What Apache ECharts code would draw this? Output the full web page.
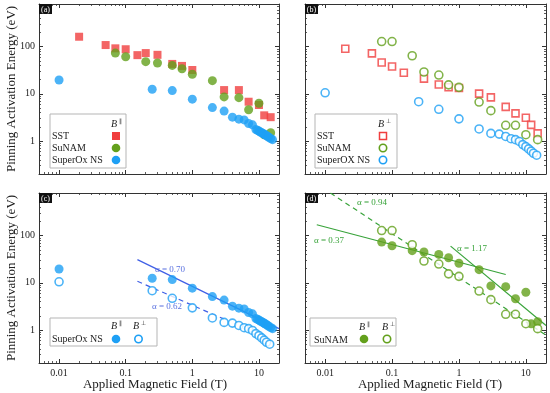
<!DOCTYPE html>
<html><head><meta charset="utf-8">
<script src="https://cdn.jsdelivr.net/npm/echarts@6/dist/echarts.min.js"></script>
<style>html,body{margin:0;padding:0;background:#fff}#c{width:550px;height:393px}</style>
</head><body><div id="c"></div>
<script>
// ---- data (B in T, E in eV) ----
const sstParB  = [0.02,0.05,0.07,0.1,0.15,0.2,0.3,0.5,0.7,1,3,5,7,10,12,15];
const sstParE  = [162,108,92,88,66,73,67,43,39,32,12,12,6.8,5.8,3.5,3.2];
const sunParB  = [0.07,0.1,0.2,0.3,0.5,0.7,1,2,3,5,7,10,12,15];
const sunParE  = [73,61,48,45,40,34,26,19,8.6,8.3,4.6,6.3,1.35,1.5];
const soxParB  = [0.01,0.25,0.5,1,2,3,4,5,6,7,8,9,9.5,10,10.5,11,11.5,12,12.5,13,13.5,14,15,16];
const soxParE  = [19.6,12.5,11.7,7.7,5.1,4.3,3.2,2.9,2.8,2.35,2.2,1.75,1.68,1.62,1.55,1.5,1.44,1.39,1.34,1.3,1.25,1.2,1.13,1.07];
const sstPerpB = [0.02,0.05,0.07,0.1,0.15,0.3,0.5,0.7,1,2,3,5,7,10,12,15];
const sstPerpE = [90,72,46,38,28,21,15.7,13.8,13.3,10.1,8.4,5.3,3.85,3.1,2.2,1.45];
const sunPerpB = [0.07,0.1,0.2,0.3,0.5,0.7,1,2,3,5,7,10,15];
const sunPerpE = [128,128,64,29,25,15.5,13.7,6.7,4.4,2.15,2.15,1.36,1.07];
const soxPerpB = [0.01,0.25,0.5,1,2,3,4,5,6,7,8,9,10,11,12,13,14.5];
const soxPerpE = [10.5,6.8,4.7,2.95,1.8,1.45,1.4,1.25,1.12,1.07,0.98,0.84,0.76,0.68,0.61,0.55,0.5];
// fit lines: endpoints
const fitC070B = [0.15, 20],   fitC070E = [31, 1.07];
const fitC062B = [0.15, 3],    fitC062E = [10.8, 1.7];
const fitD037B = [0.0075, 5],  fitD037E = [170, 15];
const fitD094B = [0.012, 20],  fitD094E = [800, 0.78];
const fitD117B = [0.75, 20],   fitD117E = [60, 1.25];
const xTickLabels = ['0.01','0.1','1','10'];
const yTickLabels = ['1','10','100'];
const panelTags = ['(a)','(b)','(c)','(d)'];

const RED='#f03e3e', GREEN='#63a01c', BLUE='#1ea0f5', FITBLUE='#3f5fe6', FITGREEN='#38a33a';
const FONT='"Liberation Serif","Times New Roman",serif';
const zip=(a,b)=>a.map((v,i)=>[v,b[i]]);
const grids=[
  {left:39,top:4,width:240,height:170},
  {left:305,top:4,width:241,height:170},
  {left:39,top:193,width:240,height:170},
  {left:305,top:193,width:241,height:170}
];
function fmt(v){const l=Math.log10(v);if(Math.abs(l-Math.round(l))>1e-6)return '';return String(+v.toPrecision(3));}
function axBase(){return{type:'log',logBase:10,splitLine:{show:false},
  axisLine:{show:true,onZero:false,lineStyle:{color:'#333',width:1}},
  axisTick:{show:true,inside:true,length:4,lineStyle:{color:'#333',width:1}},
  minorTick:{show:true,splitNumber:9,length:2,lineStyle:{color:'#333',width:0.8}},
  minorSplitLine:{show:false}};}
const xAxes=[],yAxes=[];
for(let p=0;p<4;p++){
  const bottomLab = p>=2, leftLab = (p%2===0);
  xAxes.push(Object.assign(axBase(),{gridIndex:p,position:'bottom',min:0.005,max:20,
    axisLabel:{show:bottomLab,formatter:v=>{const s=fmt(v);return xTickLabels.includes(s)?s:'';},fontFamily:FONT,fontSize:10,color:'#222',margin:5,showMinLabel:false,showMaxLabel:false}}));
  xAxes.push(Object.assign(axBase(),{gridIndex:p,position:'top',min:0.005,max:20,axisLabel:{show:false}}));
  yAxes.push(Object.assign(axBase(),{gridIndex:p,position:'left',min:0.2,max:800,
    axisLabel:{show:leftLab,formatter:v=>{const s=fmt(v);return yTickLabels.includes(s)?s:'';},fontFamily:FONT,fontSize:10,color:'#222',margin:4,showMinLabel:false,showMaxLabel:false}}));
  yAxes.push(Object.assign(axBase(),{gridIndex:p,position:'right',min:0.2,max:800,axisLabel:{show:false}}));
}
function sc(p,b,e,sym,color,open,size){
  return {type:'scatter',xAxisIndex:2*p,yAxisIndex:2*p,data:zip(b,e),symbol:sym,symbolSize:size,
    itemStyle:open?{color:'#fff',borderColor:color,borderWidth:1.6}:{color:color},z:3};
}
function fit(p,b,e,color,dashed){
  return {type:'line',xAxisIndex:2*p,yAxisIndex:2*p,data:zip(b,e),showSymbol:false,symbol:'none',
    lineStyle:{color:color,width:1.2,type:dashed?[5,4]:'solid'},z:2,silent:true,clip:true};
}
const series=[
  sc(0,sstParB,sstParE,'rect',RED,false,8),
  sc(0,sunParB,sunParE,'circle',GREEN,false,9),
  sc(0,soxParB,soxParE,'circle',BLUE,false,9),
  sc(1,sstPerpB,sstPerpE,'rect',RED,true,7),
  sc(1,sunPerpB,sunPerpE,'circle',GREEN,true,8),
  sc(1,soxPerpB,soxPerpE,'circle',BLUE,true,8),
  fit(2,fitC070B,fitC070E,FITBLUE,false),
  fit(2,fitC062B,fitC062E,FITBLUE,true),
  sc(2,soxParB,soxParE,'circle',BLUE,false,9),
  sc(2,soxPerpB,soxPerpE,'circle',BLUE,true,8),
  fit(3,fitD037B,fitD037E,FITGREEN,false),
  fit(3,fitD094B,fitD094E,FITGREEN,true),
  fit(3,fitD117B,fitD117E,FITGREEN,false),
  sc(3,sunParB,sunParE,'circle',GREEN,false,9),
  sc(3,sunPerpB,sunPerpE,'circle',GREEN,true,8)
];
// ---- graphics: titles, tags, legends, annotations ----
const g=[];
function txt(x,y,s,size,color,align,extra){g.push(Object.assign({type:'text',x:x,y:y,z:10,style:{text:s,font:(extra&&extra.italic?'italic ':'')+size+'px '+FONT,fill:color||'#222',textAlign:align||'left',textVerticalAlign:'middle'}},extra&&extra.rot?{rotation:extra.rot}:{}));}
// axis titles
txt(12,89,'Pinning Activation Energy (eV)',13,'#222','center',{rot:Math.PI/2});
txt(12,278,'Pinning Activation Energy (eV)',13,'#222','center',{rot:Math.PI/2});
txt(155,385,'Applied Magnetic Field (T)',13,'#222','center');
txt(430,385,'Applied Magnetic Field (T)',13,'#222','center');
// panel tags
grids.forEach((gr,i)=>{
  g.push({type:'rect',z:10,shape:{x:gr.left,y:gr.top,width:13,height:10},style:{fill:'#111'}});
  txt(gr.left+6.5,gr.top+5.5,panelTags[i],8,'#fff','center');
});
function box(x,y,w,h){g.push({type:'rect',z:9,shape:{x:x,y:y,width:w,height:h},style:{fill:'#fff',stroke:'#b5b5b5',lineWidth:1}});}
function bsym(x,y,sup){txt(x,y,'B',10,'#222','center',{italic:true});txt(x+4.5,y-3,sup,6,'#222','left');}
function mark(x,y,sym,color,open){
  if(sym==='rect'){const s=open?7:8;g.push({type:'rect',z:11,shape:{x:x-s/2,y:y-s/2,width:s,height:s},style:open?{fill:'#fff',stroke:color,lineWidth:1.5}:{fill:color}});}
  else{g.push({type:'circle',z:11,shape:{cx:x,cy:y,r:open?3.7:4.3},style:open?{fill:'#fff',stroke:color,lineWidth:1.6}:{fill:color}});}
}
// legend (a)
box(50,114,76,54);
bsym(114,124,'\u2225');
[['SST','rect',RED],['SuNAM','circle',GREEN],['SuperOx NS','circle',BLUE]].forEach((r,i)=>{
  const y=136+i*12; txt(52,y,r[0],10,'#222','left'); mark(116,y,r[1],r[2],false);
});
// legend (b)
box(315,114,82,54);
bsym(381,124,'\u22A5');
[['SST','rect',RED],['SuNAM','circle',GREEN],['SuperOX NS','circle',BLUE]].forEach((r,i)=>{
  const y=136+i*12; txt(317,y,r[0],10,'#222','left'); mark(383,y,r[1],r[2],true);
});
// legend (c)
box(50,318,107,28);
bsym(114,326,'\u2225'); bsym(136,326,'\u22A5');
txt(52,339,'SuperOx NS',10,'#222','left'); mark(116,339,'circle',BLUE,false); mark(138.5,339,'circle',BLUE,true);
// legend (d)
box(310,318,86,28);
bsym(362,327,'\u2225'); bsym(385,327,'\u22A5');
txt(314,340,'SuNAM',10,'#222','left'); mark(364,339,'circle',GREEN,false); mark(387,339,'circle',GREEN,true);
// fit annotations
txt(170,270,'\u03B1 = 0.70',9,'#5b72e0','center');
txt(167,307,'\u03B1 = 0.62',9,'#5b72e0','center');
txt(372,203,'\u03B1 = 0.94',9,FITGREEN,'center');
txt(329,241,'\u03B1 = 0.37',9,FITGREEN,'center');
txt(472,249,'\u03B1 = 1.17',9,FITGREEN,'center');

const chart=echarts.init(document.getElementById('c'),null,{renderer:'canvas'});
chart.setOption({animation:false,backgroundColor:'#fff',grid:grids,xAxis:xAxes,yAxis:yAxes,series:series,graphic:g});
</script></body></html>
